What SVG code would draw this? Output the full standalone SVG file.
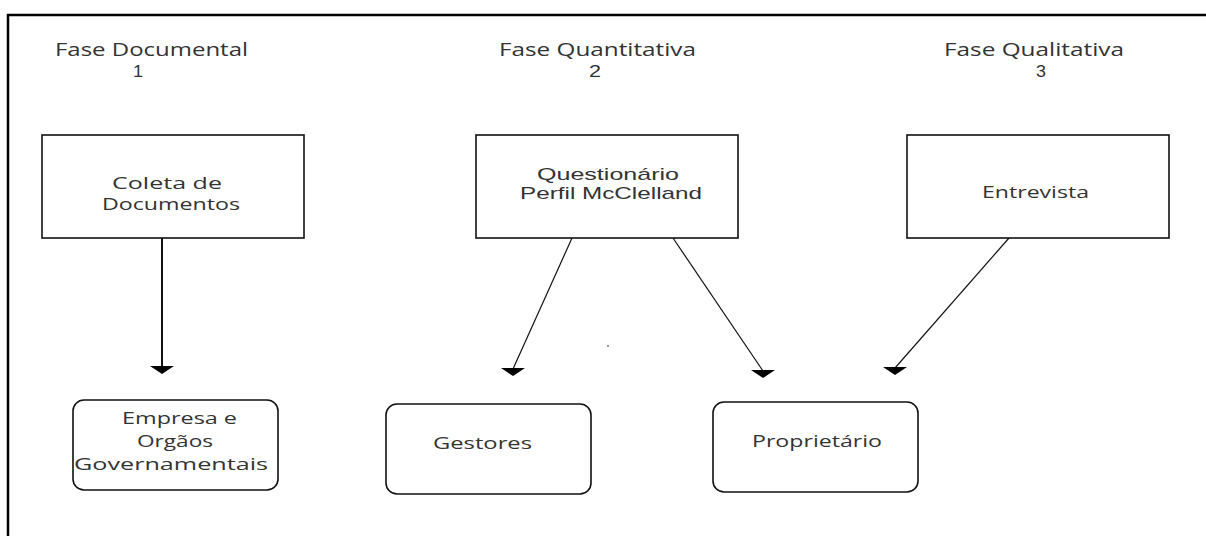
<svg xmlns="http://www.w3.org/2000/svg" width="1206" height="536" viewBox="0 0 1206 536">
  <style>
    .hdr { font-family: "Open Sans", "Liberation Sans", sans-serif; font-size: 18px; fill: #333; }
    .num { font-family: "Liberation Sans", "Open Sans", sans-serif; font-size: 17px; fill: #333; }
    .lbl { font-family: "Open Sans", "Liberation Sans", sans-serif; font-size: 17px; fill: #333; }
    .tight { font-family: "Liberation Sans", "Open Sans", sans-serif; font-size: 17px; fill: #333; }
    .box { fill: #fff; stroke: #111; stroke-width: 1.6; }
    .conn { stroke: #111; fill: none; }
  </style>
  <defs>
    <marker id="head" markerUnits="userSpaceOnUse" markerWidth="24" markerHeight="10" refX="12" refY="1" orient="0" viewBox="0 0 24 10">
      <path d="M0,0 L24,0 L12,8 Z" fill="#000"/>
    </marker>
  </defs>
  <rect x="0" y="0" width="1206" height="536" fill="#fff"/>
  <path d="M8,536 L8,15 L1206,15" fill="none" stroke="#000" stroke-width="2.5"/>

  <g id="headers">
    <text class="hdr" x="55" y="56" textLength="193" lengthAdjust="spacingAndGlyphs">Fase Documental</text>
    <text class="num" x="133" y="77" textLength="10" lengthAdjust="spacingAndGlyphs">1</text>
    <text class="hdr" x="499" y="56" textLength="197" lengthAdjust="spacingAndGlyphs">Fase Quantitativa</text>
    <text class="num" x="589" y="77" textLength="12" lengthAdjust="spacingAndGlyphs">2</text>
    <text class="hdr" x="944" y="56" textLength="180" lengthAdjust="spacingAndGlyphs">Fase Qualitativa</text>
    <text class="num" x="1036" y="77" textLength="10" lengthAdjust="spacingAndGlyphs">3</text>
  </g>

  <g id="connectors">
    <line class="conn" x1="162" y1="238" x2="162" y2="367" stroke-width="2" marker-end="url(#head)"/>
    <line class="conn" x1="572" y1="238" x2="513" y2="369" stroke-width="1.2" marker-end="url(#head)"/>
    <line class="conn" x1="673" y1="238" x2="763" y2="371" stroke-width="1.2" marker-end="url(#head)"/>
    <line class="conn" x1="1009" y1="238" x2="895" y2="368" stroke-width="1.2" marker-end="url(#head)"/>
  </g>

  <g id="coleta">
    <rect class="box" x="42" y="135" width="262" height="103"/>
    <text class="lbl" x="112" y="189" textLength="110" lengthAdjust="spacingAndGlyphs">Coleta de</text>
    <text class="lbl" x="102" y="210" textLength="138" lengthAdjust="spacingAndGlyphs">Documentos</text>
  </g>

  <g id="questionario">
    <rect class="box" x="476" y="135" width="262" height="103"/>
    <text class="tight" x="537" y="180" textLength="142" lengthAdjust="spacingAndGlyphs">Questionário</text>
    <text class="tight" x="520" y="199" textLength="182" lengthAdjust="spacingAndGlyphs">Perfil McClelland</text>
  </g>

  <g id="entrevista">
    <rect class="box" x="907" y="135" width="262" height="103"/>
    <text class="lbl" x="982" y="198" textLength="107" lengthAdjust="spacingAndGlyphs">Entrevista</text>
  </g>

  <g id="empresa">
    <rect class="box" x="73" y="400" width="205" height="90" rx="11" ry="11"/>
    <text class="lbl" x="122" y="424" textLength="115" lengthAdjust="spacingAndGlyphs">Empresa e</text>
    <text class="lbl" x="137" y="447" textLength="76" lengthAdjust="spacingAndGlyphs">Orgãos</text>
    <text class="lbl" x="74" y="470" textLength="194" lengthAdjust="spacingAndGlyphs">Governamentais</text>
  </g>

  <g id="gestores">
    <rect class="box" x="386" y="404" width="205" height="90" rx="11" ry="11"/>
    <text class="lbl" x="433" y="449" textLength="99" lengthAdjust="spacingAndGlyphs">Gestores</text>
  </g>

  <g id="proprietario">
    <rect class="box" x="713" y="402" width="205" height="90" rx="11" ry="11"/>
    <text class="lbl" x="752" y="447" textLength="130" lengthAdjust="spacingAndGlyphs">Proprietário</text>
  </g>

  <circle cx="608" cy="346" r="0.9" fill="#666"/>
</svg>
